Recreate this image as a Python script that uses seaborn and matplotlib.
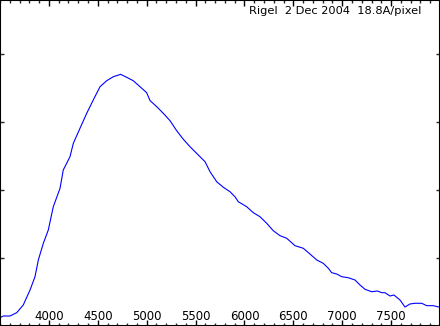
import matplotlib
matplotlib.use("Agg")
import matplotlib.pyplot as plt
import seaborn as sns
import pandas as pd
from matplotlib.ticker import MultipleLocator, FixedLocator, NullFormatter

wavelength = [3500, 3534, 3602, 3671, 3738, 3807, 3858, 3892, 3943, 3994,
              4045, 4114, 4147, 4216, 4250, 4318, 4387, 4454, 4523, 4591,
              4659, 4734, 4796, 4863, 4932, 5000, 5034, 5103, 5170, 5239,
              5307, 5375, 5443, 5528, 5597, 5648, 5716, 5784, 5852, 5903,
              5937, 6023, 6091, 6159, 6228, 6295, 6364, 6432, 6466, 6517,
              6602, 6670, 6739, 6806, 6858, 6892, 6943, 6995, 7062, 7131,
              7182, 7233, 7301, 7359, 7404, 7437, 7489, 7529, 7591, 7642,
              7693, 7744, 7813, 7864, 7931, 8000]
flux = [0.122, 0.147, 0.147, 0.196, 0.309, 0.529, 0.725, 0.971, 1.216, 1.412,
        1.754, 2.025, 2.294, 2.490, 2.687, 2.907, 3.128, 3.324, 3.519, 3.607,
        3.666, 3.701, 3.657, 3.607, 3.519, 3.431, 3.316, 3.225, 3.128, 3.019,
        2.872, 2.746, 2.637, 2.515, 2.416, 2.269, 2.122, 2.040, 1.975, 1.901,
        1.828, 1.754, 1.666, 1.607, 1.510, 1.401, 1.328, 1.290, 1.247, 1.181,
        1.143, 1.059, 0.971, 0.922, 0.849, 0.784, 0.765, 0.725, 0.710, 0.676,
        0.603, 0.540, 0.504, 0.515, 0.490, 0.490, 0.441, 0.456, 0.382, 0.279,
        0.324, 0.334, 0.334, 0.299, 0.299, 0.275]
x_ticks = [4000, 4500, 5000, 5500, 6000, 6500, 7000, 7500]
y_ticks = [1, 2, 3, 4]
title = "Rigel  2 Dec 2004  18.8A/pixel"

sns.set_style("ticks")
plt.rcParams["font.family"] = ["DejaVu Sans"]

df = pd.DataFrame({"wavelength": wavelength, "flux": flux})

fig = plt.figure(figsize=(4.4, 3.26), dpi=100)
ax = fig.add_axes([0, 0, 1, 1])
sns.lineplot(data=df, x="wavelength", y="flux", ax=ax, color="#0000ff",
             linewidth=0.8)

ax.set_xlim(3500, 8000)
ax.set_ylim(0, 326 / 68)
ax.xaxis.set_major_locator(FixedLocator(x_ticks))
ax.xaxis.set_minor_locator(MultipleLocator(100))
ax.yaxis.set_major_locator(FixedLocator(y_ticks))
ax.yaxis.set_major_formatter(NullFormatter())
ax.set_xlabel("")
ax.set_ylabel("")

for s in ax.spines.values():
    s.set_visible(True)
    s.set_linewidth(1.5)
    s.set_color("black")

ax.tick_params(axis="x", which="major", direction="in", top=True, bottom=True,
               length=4, width=1, labelsize=8.5, pad=-11.5, colors="black")
ax.tick_params(axis="x", which="minor", direction="in", top=True, bottom=True,
               length=2.5, width=1)
ax.tick_params(axis="y", which="major", direction="in", left=True, right=True,
               length=3, width=1, labelleft=False)

ax.text(421 / 440, 1 - 6 / 326, title, transform=ax.transAxes, ha="right", va="top",
        fontsize=8.2, color="black")

fig.savefig("out.png", dpi=100)
